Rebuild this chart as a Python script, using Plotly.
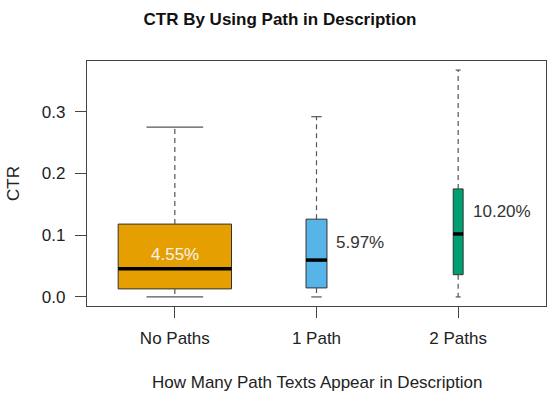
import plotly.graph_objects as go

# groups and box statistics
groups = ["No Paths", "1 Path", "2 Paths"]
positions = [1, 2, 3]
lower_whisker = [0.0, 0.0, 0.0]
q1 = [0.013, 0.0146, 0.036]
median = [0.0455, 0.0597, 0.102]
q3 = [0.118, 0.126, 0.175]
upper_whisker = [0.275, 0.292, 0.3675]

# styling
box_colors = ["#E69F00", "#56B4E9", "#009E73"]
box_widths = [0.8, 0.148, 0.07]
label_y = [0.068, 0.0875, 0.138]
label_x_offset = [0.0, 0.124, 0.092]
label_anchor = ["center", "left", "left"]
label_colors = ["#F4F4F4", "#333333", "#333333"]

FONT = "Liberation Sans, Arial, sans-serif"

fig = go.Figure()

for i in range(len(groups)):
    pos = positions[i]
    w = box_widths[i]

    # dashed whiskers
    fig.add_trace(go.Scatter(
        x=[pos, pos, None, pos, pos],
        y=[q3[i], upper_whisker[i], None, q1[i], lower_whisker[i]],
        mode="lines",
        line=dict(color="#555555", width=1.2, dash="5px,4px"),
        hoverinfo="skip",
        showlegend=False,
    ))
    # whisker caps
    fig.add_trace(go.Scatter(
        x=[pos - w / 4, pos + w / 4, None, pos - w / 4, pos + w / 4],
        y=[upper_whisker[i], upper_whisker[i], None, lower_whisker[i], lower_whisker[i]],
        mode="lines",
        line=dict(color="#555555", width=1.2),
        hoverinfo="skip",
        showlegend=False,
    ))
    # the box itself
    fig.add_trace(go.Box(
        x=[pos],
        q1=[q1[i]],
        median=[median[i]],
        q3=[q3[i]],
        lowerfence=[q1[i]],
        upperfence=[q3[i]],
        width=w,
        whiskerwidth=0,
        fillcolor=box_colors[i],
        line=dict(color="#333333", width=1),
        boxpoints=False,
        hoverinfo="skip",
        showlegend=False,
    ))
    # thick median line
    fig.add_trace(go.Scatter(
        x=[pos - w / 2, pos + w / 2],
        y=[median[i], median[i]],
        mode="lines",
        line=dict(color="black", width=3.5),
        hoverinfo="skip",
        showlegend=False,
    ))
    # median label
    fig.add_annotation(
        x=pos + label_x_offset[i],
        y=label_y[i],
        xref="x", yref="y",
        text="%.2f%%" % (median[i] * 100),
        showarrow=False,
        xanchor=label_anchor[i],
        yanchor="middle",
        font=dict(family=FONT, size=17, color=label_colors[i]),
    )

# axis titles placed like R's mtext
fig.add_annotation(
    x=0.5, y=0, xref="paper", yref="paper",
    text="How Many Path Texts Appear in Description",
    showarrow=False, yanchor="middle", yshift=-76,
    font=dict(family=FONT, size=17, color="#222222"),
)
fig.add_annotation(
    x=0, y=0.5, xref="paper", yref="paper",
    text="CTR", textangle=-90,
    showarrow=False, xanchor="center", xshift=-73.5,
    font=dict(family=FONT, size=17, color="#222222"),
)

fig.update_layout(
    width=560, height=400,
    margin=dict(l=87, r=14, t=61, b=94),
    paper_bgcolor="white",
    plot_bgcolor="white",
    title=dict(
        text="<b>CTR By Using Path in Description</b>",
        x=0.5, xanchor="center", xref="container",
        y=1 - 19 / 400, yanchor="middle", yref="container",
        font=dict(family=FONT, size=17, color="#111111"),
    ),
    xaxis=dict(
        range=[0.38, 3.62],
        tickvals=positions,
        ticktext=groups,
        ticks="outside", ticklen=11, tickcolor="#444444", tickwidth=1.2,
        ticklabelstandoff=5,
        tickfont=dict(family=FONT, size=17, color="#222222"),
        showline=True, mirror=True, linecolor="#444444", linewidth=1.2,
        showgrid=False, zeroline=False,
    ),
    yaxis=dict(
        range=[-0.0147, 0.3822],
        tickvals=[0.0, 0.1, 0.2, 0.3],
        ticktext=["0.0", "0.1", "0.2", "0.3"],
        ticks="outside", ticklen=11, tickcolor="#444444", tickwidth=1.2,
        ticklabelstandoff=6,
        tickfont=dict(family=FONT, size=17, color="#222222"),
        showline=True, mirror=True, linecolor="#444444", linewidth=1.2,
        showgrid=False, zeroline=False,
    ),
)

# drop the browser's default body margin so the figure fills the window
fig.write_html("out.html", config={"displayModeBar": False},
               post_script="document.body.style.margin = '0';")
